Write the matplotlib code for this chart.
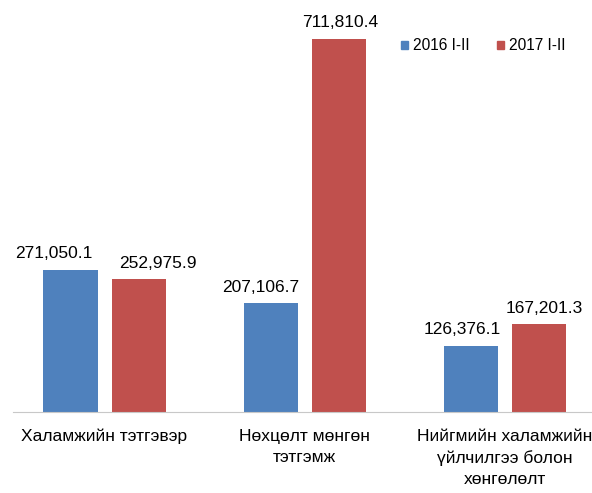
import numpy as np
import matplotlib.pyplot as plt
from matplotlib.patches import Rectangle

categories = ['Халамжийн тэтгэвэр', 'Нөхцөлт мөнгөн\nтэтгэмж',
              'Нийгмийн халамжийн\nүйлчилгээ болон\nхөнгөлөлт']
series_names = ['2016 I-II', '2017 I-II']
vals_2016 = [271050.1, 207106.7, 126376.1]
vals_2017 = [252975.9, 711810.4, 167201.3]

colors = ['#4F81BD', '#C0504D']
# label nudges (px) so neighbouring labels don't collide, as in the original
nudge_2016 = [-17, -10, -8]
nudge_2017 = [19, 2, 6]

plt.rcParams['font.family'] = ['Liberation Sans', 'DejaVu Sans']

fig = plt.figure(figsize=(5.92, 4.93), dpi=100)
W, H = 592., 493.
ax = fig.add_axes([13/W, 1-412/H, (592-13)/W, 412/H])

x = np.arange(len(categories))
w = 0.27
off = 0.17
ax.bar(x - off, vals_2016, w, color=colors[0])
ax.bar(x + off, vals_2017, w, color=colors[1])

for xs, vals, nudges in ((x - off, vals_2016, nudge_2016),
                         (x + off, vals_2017, nudge_2017)):
    for xi, v, dx in zip(xs, vals, nudges):
        ax.annotate(f'{v:,.1f}', (xi, v), xytext=(dx*0.72, 8.5),
                    textcoords='offset points', ha='center', va='baseline',
                    fontsize=12.5, color='#000000', annotation_clip=False)

ax.set_xlim(-0.4575, 2.4375)
ax.set_ylim(0, 786200)
ax.set_xticks(x, categories, fontsize=12.5, color='#000000')
for t in ax.get_xticklabels():
    t.set_linespacing(1.5)
ax.tick_params(axis='x', length=0, pad=12)
ax.set_yticks([])
for s in ('top', 'left', 'right'):
    ax.spines[s].set_visible(False)
ax.spines['bottom'].set_color('#C8C8C8')
ax.spines['bottom'].set_linewidth(0.8)

handles = [Rectangle((0, 0), 1, 1, color=c) for c in colors]
fig.legend(handles, series_names, loc='center left',
           bbox_to_anchor=(401/W, 1-46/H), bbox_transform=fig.transFigure,
           ncol=2, frameon=False, fontsize=11.2, handlelength=0.45,
           handleheight=0.45, handletextpad=0.32, columnspacing=1.74,
           borderpad=0, borderaxespad=0)

fig.savefig('out.png', dpi=100)
